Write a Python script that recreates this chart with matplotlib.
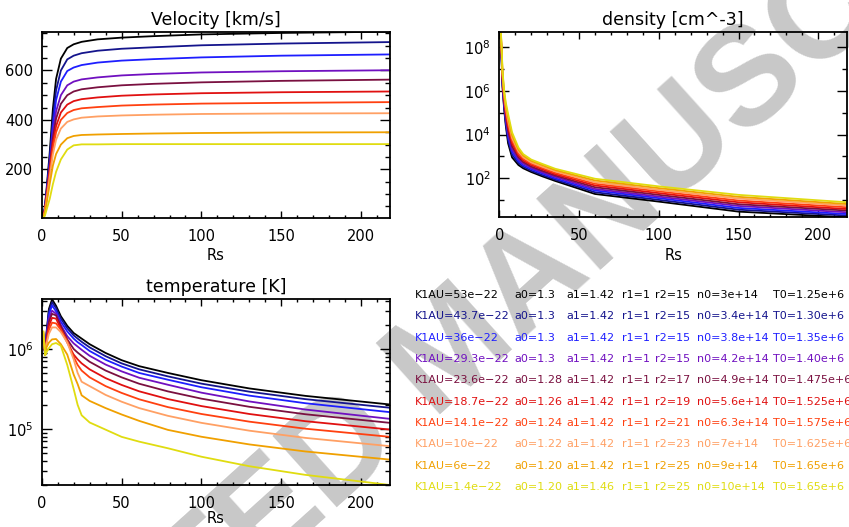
import numpy as np
import matplotlib
matplotlib.use("Agg")
from matplotlib import pyplot as plt
from matplotlib.ticker import (
    MultipleLocator,
    FixedLocator,
    LogLocator,
    NullFormatter,
    LogFormatterMathtext,
)

# one colour per model run, black -> yellow
colors = ["#000000", "#14148c", "#1e1eff", "#7010c0", "#7a1040",
          "#e01010", "#ff4010", "#ffa064", "#f0a000", "#e0dc10"]

# legend fields
k1au = ["53e-22", "43.7e-22", "36e-22", "29.3e-22", "23.6e-22",
        "18.7e-22", "14.1e-22", "10e-22", "6e-22", "1.4e-22"]
a0 = ["1.3", "1.3", "1.3", "1.3", "1.28", "1.26", "1.24", "1.22", "1.20", "1.20"]
a1 = ["1.42", "1.42", "1.42", "1.42", "1.42", "1.42", "1.42", "1.42", "1.42", "1.46"]
r1 = ["1"] * 10
r2 = ["15", "15", "15", "15", "17", "19", "21", "23", "25", "25"]
n0 = ["3e+14", "3.4e+14", "3.8e+14", "4.2e+14", "4.9e+14",
      "5.6e+14", "6.3e+14", "7e+14", "9e+14", "10e+14"]
t0 = ["1.25e+6", "1.30e+6", "1.35e+6", "1.40e+6", "1.475e+6",
      "1.525e+6", "1.575e+6", "1.625e+6", "1.65e+6", "1.65e+6"]

# velocity [km/s]
r_vel = [1, 2, 3, 5, 7, 9, 12, 16, 20, 25, 35, 50, 70, 100, 150, 218]
velocity = [
    [3, 49, 117, 267, 445, 566, 648, 691, 706, 716, 726, 733, 739, 746, 752, 757],
    [3, 45, 108, 245, 405, 520, 600, 645, 660, 670, 680, 688, 694, 702, 709, 715],
    [3, 42, 100, 230, 375, 480, 555, 598, 612, 622, 632, 640, 646, 653, 660, 665],
    [3, 40, 95, 215, 345, 435, 500, 540, 555, 564, 572, 580, 586, 592, 597, 601],
    [3, 38, 90, 205, 325, 405, 465, 500, 515, 524, 532, 540, 546, 552, 558, 563],
    [3, 36, 85, 195, 305, 375, 430, 462, 476, 484, 491, 498, 503, 508, 512, 515],
    [3, 34, 80, 185, 285, 350, 400, 428, 440, 447, 452, 458, 462, 466, 469, 472],
    [3, 30, 72, 168, 260, 320, 365, 392, 402, 409, 414, 418, 421, 424, 426, 427],
    [3, 25, 60, 140, 215, 262, 300, 326, 335, 339, 341, 343, 345, 347, 349, 350],
    [3, 12, 35, 80, 140, 190, 240, 280, 297, 301, 301, 302, 302, 302, 302, 302],
]

# log10 density [cm^-3]
r_den = [1, 1.5, 2, 3, 4, 5.5, 8, 12, 15, 20, 27, 35, 60, 100, 150, 218]
log_density = [
    [8.20, 7.30, 6.20, 5.20, 4.45, 3.60, 2.95, 2.60, 2.45, 2.28, 2.08, 1.87, 1.27, 0.92, 0.46, 0.20],
    [8.26, 7.37, 6.28, 5.29, 4.57, 3.75, 3.08, 2.69, 2.52, 2.34, 2.14, 1.93, 1.35, 1.00, 0.55, 0.28],
    [8.32, 7.44, 6.37, 5.39, 4.68, 3.90, 3.21, 2.78, 2.59, 2.41, 2.21, 1.99, 1.43, 1.08, 0.63, 0.35],
    [8.37, 7.52, 6.45, 5.48, 4.80, 4.05, 3.33, 2.87, 2.67, 2.47, 2.27, 2.06, 1.50, 1.15, 0.72, 0.43],
    [8.43, 7.59, 6.53, 5.58, 4.92, 4.20, 3.46, 2.96, 2.74, 2.53, 2.33, 2.12, 1.58, 1.23, 0.80, 0.51],
    [8.49, 7.66, 6.62, 5.67, 5.03, 4.35, 3.59, 3.04, 2.81, 2.60, 2.40, 2.18, 1.66, 1.31, 0.89, 0.58],
    [8.55, 7.73, 6.70, 5.77, 5.15, 4.50, 3.72, 3.13, 2.88, 2.66, 2.46, 2.24, 1.74, 1.39, 0.97, 0.66],
    [8.60, 7.81, 6.78, 5.86, 5.27, 4.65, 3.84, 3.22, 2.96, 2.72, 2.52, 2.31, 1.81, 1.46, 1.06, 0.74],
    [8.66, 7.88, 6.87, 5.96, 5.38, 4.80, 3.97, 3.31, 3.03, 2.79, 2.59, 2.37, 1.89, 1.54, 1.14, 0.81],
    [8.72, 7.95, 6.95, 6.05, 5.50, 4.95, 4.10, 3.40, 3.10, 2.85, 2.65, 2.43, 1.97, 1.62, 1.23, 0.89],
]

# log10 temperature [K]
r_temp = [1, 2.2, 3, 4.5, 6.5, 9, 12, 16, 20, 22.5, 25, 30, 40, 50, 61, 79, 100, 130, 165, 218]
log_temperature = [
    [6.097, 5.93, 6.20, 6.50, 6.622, 6.54, 6.41, 6.29, 6.20, 6.165, 6.13, 6.06, 5.95, 5.86, 5.785, 5.70, 5.609, 5.506, 5.413, 5.305],
    [6.114, 5.93, 6.18, 6.47, 6.585, 6.51, 6.38, 6.26, 6.17, 6.13, 6.09, 6.02, 5.91, 5.82, 5.745, 5.657, 5.566, 5.465, 5.372, 5.264],
    [6.130, 5.93, 6.16, 6.43, 6.545, 6.47, 6.34, 6.22, 6.13, 6.085, 6.05, 5.975, 5.865, 5.78, 5.70, 5.615, 5.521, 5.416, 5.321, 5.209],
    [6.146, 5.93, 6.14, 6.38, 6.48, 6.44, 6.30, 6.16, 6.07, 6.03, 5.99, 5.915, 5.805, 5.72, 5.64, 5.552, 5.453, 5.343, 5.242, 5.125],
    [6.169, 5.93, 6.12, 6.34, 6.44, 6.42, 6.28, 6.12, 6.00, 5.955, 5.915, 5.84, 5.73, 5.645, 5.565, 5.469, 5.378, 5.276, 5.183, 5.075],
    [6.183, 5.93, 6.10, 6.29, 6.39, 6.38, 6.25, 6.08, 5.93, 5.87, 5.82, 5.745, 5.635, 5.55, 5.47, 5.373, 5.285, 5.186, 5.096, 4.991],
    [6.197, 5.93, 6.08, 6.24, 6.33, 6.32, 6.24, 6.10, 5.90, 5.80, 5.73, 5.645, 5.535, 5.45, 5.37, 5.272, 5.186, 5.090, 5.002, 4.900],
    [6.211, 5.93, 6.06, 6.19, 6.27, 6.27, 6.21, 6.08, 5.87, 5.70, 5.59, 5.535, 5.425, 5.34, 5.26, 5.163, 5.075, 4.977, 4.887, 4.783],
    [6.217, 5.93, 6.02, 6.08, 6.12, 6.125, 6.06, 5.93, 5.68, 5.56, 5.42, 5.35, 5.26, 5.18, 5.10, 4.987, 4.901, 4.805, 4.717, 4.615],
    [6.217, 5.92, 5.96, 6.01, 6.06, 6.075, 6.04, 5.80, 5.50, 5.30, 5.17, 5.08, 4.99, 4.90, 4.84, 4.757, 4.651, 4.532, 4.424, 4.297],
]

W, H = 849, 527
fig = plt.figure(figsize=(W / 100, H / 100), dpi=100)


def box(left, top, right, bottom):
    return [left / W, 1 - bottom / H, (right - left) / W, (bottom - top) / H]


def style(ax, title, labelpad=3):
    ax.set_facecolor("none")
    for s in ax.spines.values():
        s.set_linewidth(1.3)
    ax.set_xlim(0, 218)
    ax.xaxis.set_major_locator(MultipleLocator(50))
    ax.xaxis.set_minor_locator(MultipleLocator(10))
    ax.tick_params(which="both", direction="in", top=True, right=True,
                   width=1.0, labelsize=10.5)
    ax.tick_params(axis="x", which="major", length=5, pad=8)
    ax.tick_params(axis="x", which="minor", length=2.5)
    ax.tick_params(axis="y", which="major", length=7, pad=6)
    ax.tick_params(axis="y", which="minor", length=3.5)
    ax.set_title(title, fontsize=12.5, pad=5)
    ax.set_xlabel("Rs", fontsize=10.5, labelpad=labelpad)


ax_v = fig.add_axes(box(41.7, 31.7, 390, 218))
ax_n = fig.add_axes(box(499.3, 31.7, 847, 217.3))
ax_t = fig.add_axes(box(41.7, 299.3, 390, 485))

# velocity
for i, v in enumerate(velocity):
    ax_v.plot(r_vel, v, color=colors[i], lw=1.3)
style(ax_v, "Velocity [km/s]")
ax_v.set_ylim(np.min(velocity), np.max(velocity))
ax_v.yaxis.set_major_locator(MultipleLocator(200))
ax_v.yaxis.set_minor_locator(MultipleLocator(50))

# density
dens = 10.0 ** np.array(log_density)
for i, n in enumerate(dens):
    ax_n.plot(r_den, n, color=colors[i], lw=1.3)
ax_n.set_yscale("log")
style(ax_n, "density [cm^-3]")
ax_n.set_ylim(dens.min(), dens.max())
ax_n.yaxis.set_major_locator(LogLocator(base=100))
ax_n.yaxis.set_major_formatter(LogFormatterMathtext(base=10))
ax_n.yaxis.set_minor_locator(FixedLocator([1e1, 1e3, 1e5, 1e7]))
ax_n.yaxis.set_minor_formatter(NullFormatter())

# temperature
temp = 10.0 ** np.array(log_temperature)
for i, t in enumerate(temp):
    ax_t.plot(r_temp, t, color=colors[i], lw=1.3)
ax_t.set_yscale("log")
style(ax_t, "temperature [K]", labelpad=0)
ax_t.set_ylim(temp.min(), temp.max())
ax_t.yaxis.set_major_locator(LogLocator(base=10))
ax_t.yaxis.set_major_formatter(LogFormatterMathtext(base=10))
ax_t.yaxis.set_minor_locator(LogLocator(base=10, subs=np.arange(2, 10)))
ax_t.yaxis.set_minor_formatter(NullFormatter())

# parameter table
cols = [415, 514, 566, 622, 655, 697, 773]
for i in range(len(k1au)):
    y = 1 - (295 + i * 21.35) / H
    fields = ["K1AU=" + k1au[i], "a0=" + a0[i], "a1=" + a1[i], "r1=" + r1[i],
              "r2=" + r2[i], "n0=" + n0[i], "T0=" + t0[i]]
    for x, s in zip(cols, fields):
        fig.text(x / W, y, s.replace("-", "\u2212"), color=colors[i],
                 fontsize=8.0, va="center", ha="left")

# watermark
fig.text(455 / W, 1 - 352 / H, "ACCEPTED MANUSCRIPT", rotation=42,
         rotation_mode="anchor", ha="center", va="center", fontsize=100,
         fontweight="bold", family="Liberation Sans", color="#c8c8c8",
         zorder=-1)

fig.savefig("out.png", dpi=100)
